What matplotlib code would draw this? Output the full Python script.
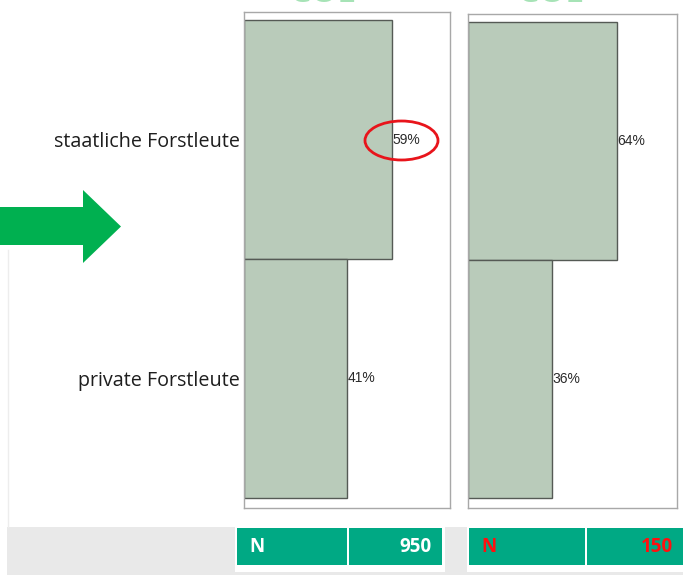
import matplotlib
matplotlib.use("Agg")
import matplotlib.pyplot as plt
from matplotlib.patches import Polygon, Rectangle, Ellipse

plt.rcParams['font.family'] = ['Open Sans', 'DejaVu Sans']

categories = ["staatliche Forstleute", "private Forstleute"]
values_left = [59, 41]
values_right = [64, 36]
n_values = [950, 150]
n_colors = ["white", "#FF1010"]
top_titles = ["COE", "COE"]

W, H = 683, 577
fig = plt.figure(figsize=(W / 100, H / 100), dpi=100)

bar_color = "#B9CBBA"
edge_color = "#555A55"
frame_color = "#A8A8A8"

def fx(px):
    return px / W

def fy(py):
    return 1 - py / H

panels = [
    (244, 12, 450, 508, values_left, 0.82),
    (468, 14, 677, 508, values_right, 0.90),
]
axes = []
for (x0, y0, x1, y1, vals, xmax) in panels:
    ax = fig.add_axes([fx(x0), fy(y1), fx(x1 - x0), (y1 - y0) / H])
    ypos = list(range(len(categories)))
    ax.barh(ypos, [v / 100 for v in vals], height=1.0, color=bar_color,
            edgecolor=edge_color, linewidth=1.0)
    for yp, v in zip(ypos, vals):
        ax.text(v / 100 + 0.002, yp, f"{v}%", va="center", ha="left",
                fontsize=10, color="#2a2a2a",
                family=['Liberation Sans', 'DejaVu Sans'])
    ax.set_xlim(0, xmax)
    unit = (y1 - y0 - 18) / 2
    ax.set_ylim(1.5 + 10 / unit, -0.5 - 8 / unit)
    ax.set_xticks([])
    ax.set_yticks([])
    for s in ax.spines.values():
        s.set_color(frame_color)
        s.set_linewidth(1.0)
    axes.append(ax)

axes[0].set_yticks(range(len(categories)))
axes[0].set_yticklabels(categories, fontsize=14.2, color="#1e1e1e")
axes[0].tick_params(axis="y", length=0, pad=3)

ov = fig.add_axes([0, 0, 1, 1], zorder=10)
ov.set_xlim(0, W)
ov.set_ylim(H, 0)
ov.axis("off")
ov.patch.set_alpha(0)

# cut-off titles at the top (only their lower edge is visible)
for xc, t in zip([323, 551], top_titles):
    ov.text(xc, 1.5, t, ha="center", va="baseline", fontsize=24,
            fontweight="bold", color="#A6E3B6")

# green arrow
arrow = Polygon([(0, 207), (83, 207), (83, 190), (121, 226.5), (83, 263),
                 (83, 245), (0, 245)], closed=True, facecolor="#00B050",
                edgecolor="none")
ov.add_patch(arrow)

# faint frame line at left
ov.plot([8, 8], [250, 527], color="#EDEDED", lw=1)

# red ellipse around 59%
ov.add_patch(Ellipse((401.5, 140.5), 73, 39, fill=False, edgecolor="#E8141B",
                     lw=2.0))

# bottom gray band
ov.add_patch(Rectangle((7, 527), W - 7, 48, facecolor="#E9E9E9",
                       edgecolor="none"))
for (bx0, bx1) in [(235, 445), (467, 683)]:
    ov.add_patch(Rectangle((bx0, 526), bx1 - bx0, 46, facecolor="white",
                           edgecolor="none"))

green = "#00A984"
boxes = [((237, 347), (349, 442)), ((469, 585), (587, 683))]
for (nb, vb), nv, col in zip(boxes, n_values, n_colors):
    ov.add_patch(Rectangle((nb[0], 528), nb[1] - nb[0], 37, facecolor=green,
                           edgecolor="none"))
    ov.add_patch(Rectangle((vb[0], 528), vb[1] - vb[0], 37, facecolor=green,
                           edgecolor="none"))
    ov.text(nb[0] + 12, 547, "N", ha="left", va="center", fontsize=13.5,
            fontweight="bold", color=col)
    ov.text(vb[1] - 10, 547, f"{nv}", ha="right", va="center", fontsize=13.5,
            fontweight="bold", color=col)

fig.savefig("out.png", dpi=100, facecolor="white")
